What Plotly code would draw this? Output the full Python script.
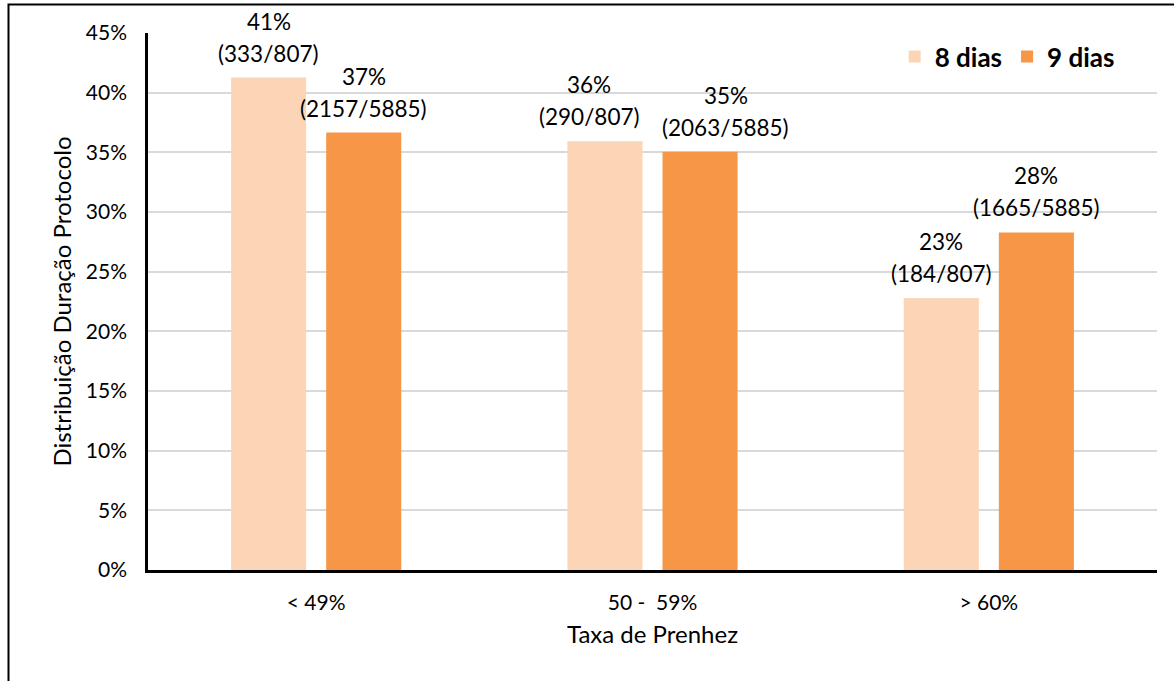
import plotly.graph_objects as go

categories = ["< 49%", "50 -  59%", "> 60%"]
series_names = ["8 dias", "9 dias"]
num_8 = [333, 290, 184]
den_8 = [807, 807, 807]
num_9 = [2157, 2063, 1665]
den_9 = [5885, 5885, 5885]
colors = ["#FBD5B5", "#F79646"]
y_ticks = [0, 0.05, 0.10, 0.15, 0.20, 0.25, 0.30, 0.35, 0.40, 0.45]

# horizontal nudges of the data labels (pixels), as in the original chart
label_dx_8 = [0, -16, 0]
label_dx_9 = [0, 25.5, 0]

FONT = "Lato"

vals_8 = [n / d for n, d in zip(num_8, den_8)]
vals_9 = [n / d for n, d in zip(num_9, den_9)]

fig = go.Figure()
for name, vals, col in [(series_names[0], vals_8, colors[0]), (series_names[1], vals_9, colors[1])]:
    fig.add_trace(go.Bar(x=categories, y=vals, name=name, marker=dict(color=col, line=dict(width=0)),
                         hoverinfo="skip"))

annotations = []
for vals, nums, dens, shift, dxs in [(vals_8, num_8, den_8, -47.5, label_dx_8),
                                     (vals_9, num_9, den_9, 47.5, label_dx_9)]:
    for c, v, n, d, dx in zip(categories, vals, nums, dens, dxs):
        annotations.append(dict(x=c, y=v, xref="x", yref="y", text=f"({n}/{d})", showarrow=False,
                                xshift=shift + dx, yshift=9, yanchor="bottom",
                                font=dict(family=FONT, size=22.5, color="#000")))
        annotations.append(dict(x=c, y=v, xref="x", yref="y", text=f"{round(v*100)}%", showarrow=False,
                                xshift=shift + dx, yshift=41, yanchor="bottom",
                                font=dict(family=FONT, size=22.5, color="#000")))

fig.update_layout(
    width=1174, height=681,
    margin=dict(l=148, r=17, t=33, b=111),
    plot_bgcolor="white", paper_bgcolor="white",
    barmode="group", bargap=0.4345, bargroupgap=0.2105,
    font=dict(family=FONT, color="#000", size=21),
    showlegend=True,
    legend=dict(orientation="h", x=0.963, xanchor="right", y=1.0, yanchor="top",
                font=dict(family=FONT, size=26, color="#000", weight="bold"),
                bgcolor="rgba(0,0,0,0)", itemwidth=30, traceorder="normal"),
    annotations=annotations,
    shapes=[dict(type="rect", xref="paper", yref="paper",
                 x0=(8.5 - 148) / 1009, x1=(1190 - 148) / 1009,
                 y0=(570 - 700) / 537, y1=(570 - 4.5) / 537,
                 line=dict(color="black", width=2), fillcolor="rgba(0,0,0,0)", layer="below")],
)
fig.update_yaxes(range=[0, 0.45], tickvals=y_ticks, tickformat=".0%",
                 showgrid=True, gridcolor="#D9D9D9", gridwidth=1.5,
                 showline=True, linecolor="black", linewidth=2.5,
                 ticks="", ticklabelstandoff=14, zeroline=False,
                 tickfont=dict(family=FONT, size=21, color="#000"),
                 title=dict(text="Distribuição Duração Protocolo", font=dict(family=FONT, size=24, color="#000"), standoff=8))
fig.update_xaxes(showline=True, linecolor="black", linewidth=2.5, ticks="",
                 tickfont=dict(family=FONT, size=21, color="#000"), ticklabelstandoff=12,
                 title=dict(text="Taxa de Prenhez", font=dict(family=FONT, size=24, color="#000"), standoff=14))

fig.write_html("out.html", post_script="document.body.style.margin='0';",
               config={"displayModeBar": False})
